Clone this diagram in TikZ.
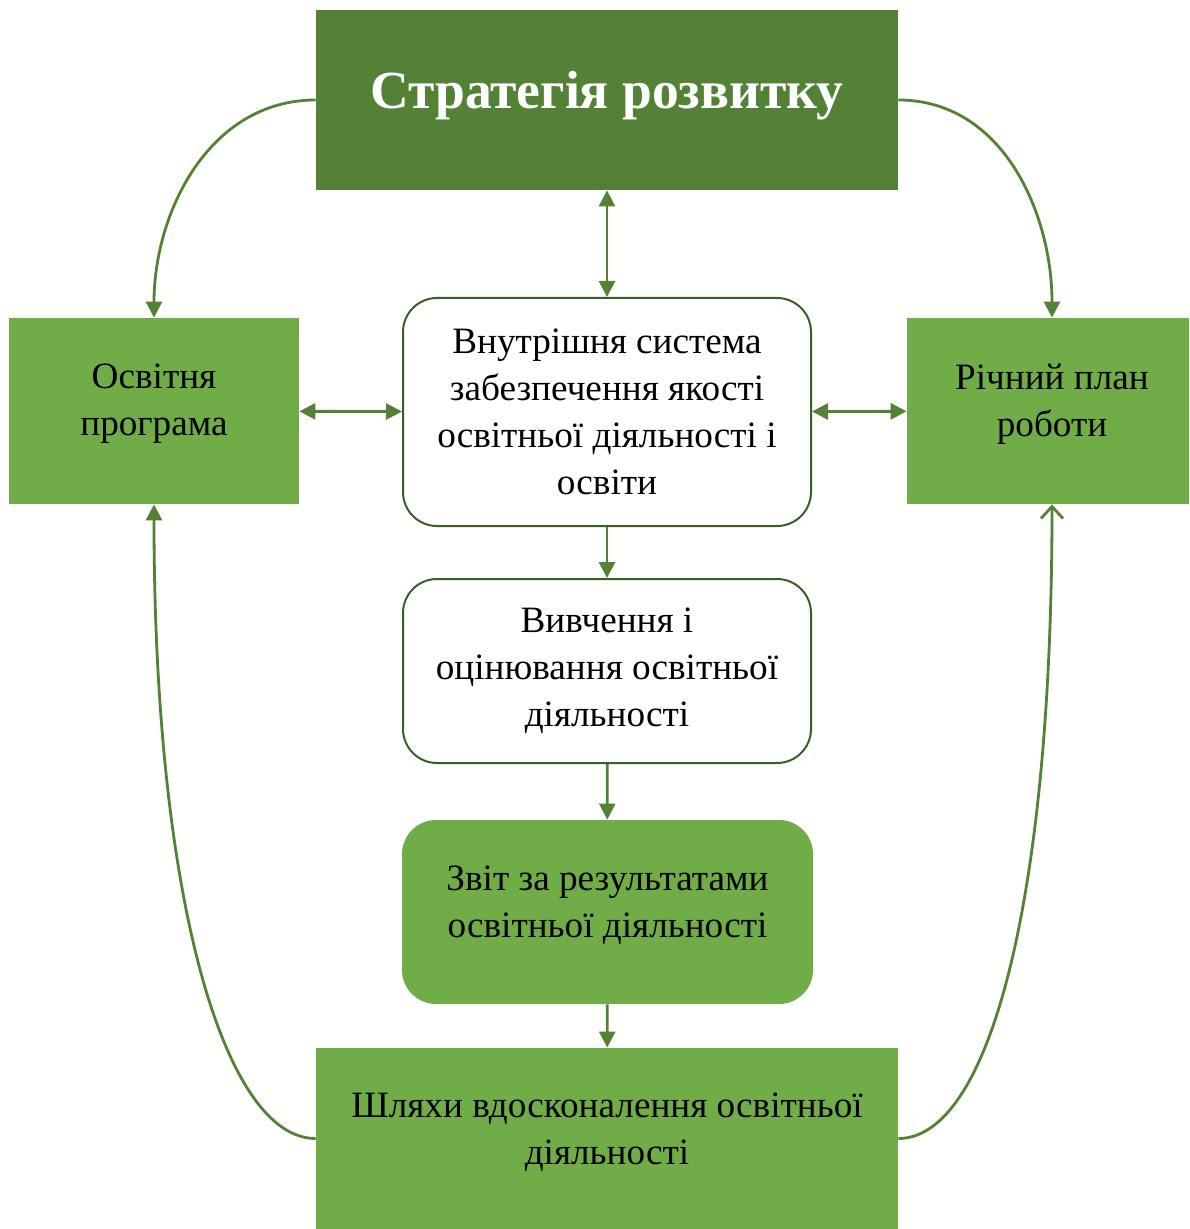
\documentclass[tikz,border=0pt]{standalone}
\usepackage{fontspec}
\setmainfont{Liberation Serif}
\usetikzlibrary{positioning,arrows.meta}
\definecolor{LeafLight}{HTML}{70AD47}
\definecolor{LeafDark}{HTML}{538135}
\definecolor{LeafLine}{HTML}{548235}
\definecolor{LeafEdge}{HTML}{3B5E26}

\begin{document}
\begin{tikzpicture}[x=0.5pt,y=-0.5pt,
    boxtext/.style={align=center,inner sep=0pt,font=\fontsize{18.6}{23.5}\selectfont},
    greenbox/.style={boxtext,rectangle,fill=LeafLight},
    whitebox/.style={boxtext,rectangle,rounded corners=17pt,draw=LeafEdge,line width=1pt,fill=white},
    softbox/.style={boxtext,rectangle,rounded corners=17pt,fill=LeafLight},
    link/.style={LeafLine,line width=1.4pt},
    tip/.tip={Triangle[length=8pt,width=8pt]},
    opentip/.tip={Straight Barb[length=6pt,width=11pt,line width=1.4pt]}]
  \clip (0,0) rectangle (1189,1229);

  % Strategy on top
  \node[rectangle,fill=LeafDark,minimum width=291pt,minimum height=90pt,text depth=10pt,
        text=white,font=\fontsize{26.8}{32}\selectfont\bfseries] (strat) at (607,100) {Стратегія розвитку};

  % Side boxes
  \node[greenbox,minimum width=145pt,minimum height=93pt,text depth=11pt] (prog) at (154,411) {Освітня\\програма};
  \node[greenbox,minimum width=145pt,minimum height=93pt,text depth=11pt] (plan) at (1052,411) {Річний план\\роботи};

  % Middle column
  \node[whitebox,minimum width=204pt,minimum height=114pt] (quality) at (607,412)
    {Внутрішня система\\забезпечення якості\\освітньої діяльності і\\освіти};
  \node[whitebox,minimum width=204pt,minimum height=92pt] (study) at (607,671)
    {Вивчення і\\оцінювання освітньої\\діяльності};
  \node[softbox,minimum width=205.5pt,minimum height=92pt,text depth=10pt] (report) at (607.5,912)
    {Звіт за результатами\\освітньої діяльності};

  % Ways at the bottom
  \node[greenbox,minimum width=291pt,minimum height=90.5pt,text depth=10pt] (ways) at (607,1138.5)
    {Шляхи вдосконалення освітньої\\діяльності};

  % Straight links
  \draw[link,tip-tip] (strat) -- (quality);
  \draw[link,tip-tip] (prog) -- (quality);
  \draw[link,tip-tip] (quality) -- (plan);
  \draw[link,-tip] (quality) -- (study);
  \draw[link,-tip] (study) -- (report);
  \draw[link,-tip] (report) -- (ways);

  % Curved links
  \draw[link,-tip] (strat.west) to[out=180,in=90] (prog.north);
  \draw[link,-tip] (strat.east) to[out=0,in=90] (plan.north);
  \draw[link,-tip] (ways.west) .. controls +(-90,0) and +(0,400) .. (prog.south);
  \draw[link,-opentip] (ways.east) .. controls +(90,0) and +(0,400) .. (plan.south);
\end{tikzpicture}
\end{document}
